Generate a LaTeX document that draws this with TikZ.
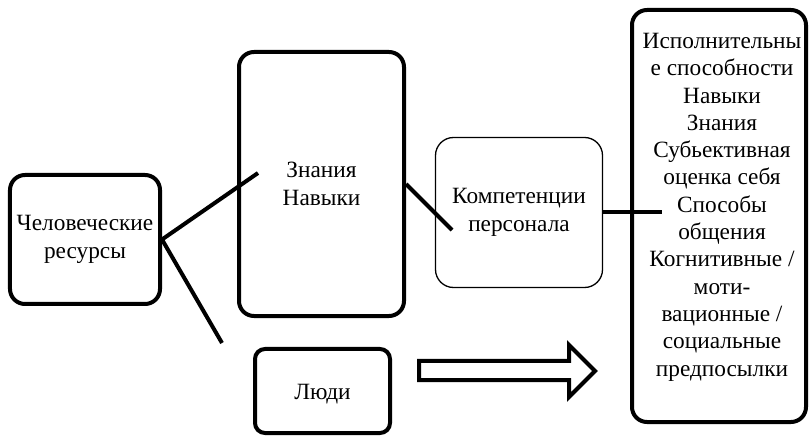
\documentclass[tikz,border=0pt]{standalone}
\usepackage{fontspec}
\setmainfont{Liberation Serif}
\begin{document}
\begin{tikzpicture}[x=1bp,y=-1bp,
  every node/.style={font=\fontsize{23.4}{27.4}\selectfont},
  thickbox/.style={draw, line width=4bp, rounded corners=15bp, align=center, inner sep=0pt},
  thinbox/.style={draw, line width=1.3bp, rounded corners=18bp, align=center, inner sep=0pt},
  plaintext/.style={align=center, inner sep=0pt},
  conn/.style={line width=4bp}]
\useasboundingbox (0,0) rectangle (812,437);
% boxes
\node[thickbox, minimum width=150bp, minimum height=129bp] (hr) at (85,239.5) {Человеческие\\ресурсы};
\node[thickbox, minimum width=165bp, minimum height=264bp] (zn) at (321.5,184) {Знания\\Навыки};
\node[thinbox, minimum width=167bp, minimum height=150bp] (kp) at (519,212.5) {Компетенции\\персонала};
\node[thickbox, minimum width=174bp, minimum height=412bp] (ls) at (719,216) {};
\node[plaintext, anchor=north] (lst) at (722,33) {Исполнительны\\е способности\\Навыки\\Знания\\Субьективная\\оценка себя\\Способы\\общения\\Когнитивные /\\моти-\\вационные /\\социальные\\предпосылки};
\node[thickbox, rounded corners=10bp, minimum width=135bp, minimum height=84bp] (pp) at (322.5,391) {};
\node[plaintext, anchor=base] (ppt) at (322.5,399) {Люди};
% connector ends
\coordinate (e1) at (258,173);
\coordinate (e2) at (222,343);
\coordinate (e3) at (452,230);
\coordinate (e4) at (662,212.5);
\draw[conn] (hr.east) -- (e1);
\draw[conn] (hr.east) -- (e2);
\draw[conn] (zn.east) -- (e3);
\draw[conn] (kp.east) -- (e4);
% block arrow
\draw[line width=4bp] (419,361) -- (569,361) -- (569,345) -- (595,371) -- (569,397) -- (569,380) -- (419,380) -- cycle;
\end{tikzpicture}
\end{document}
